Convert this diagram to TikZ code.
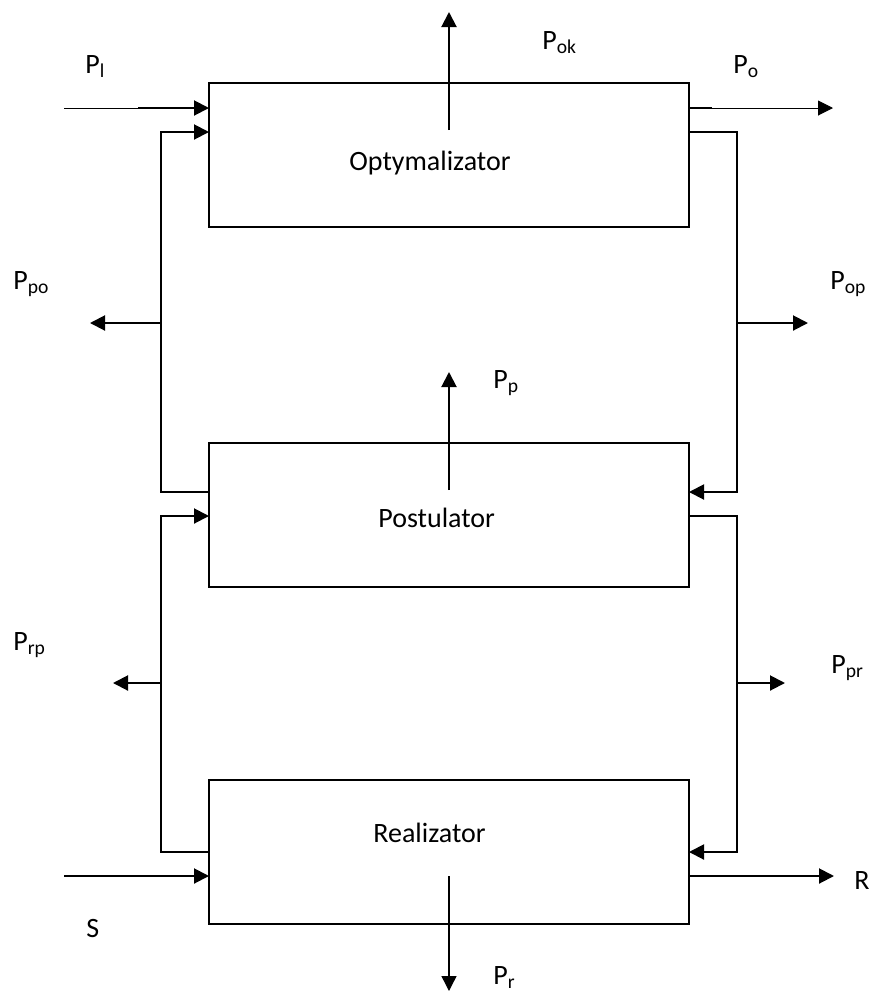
\documentclass[tikz,border=0pt]{standalone}
\usepackage{fontspec}
\setmainfont{Carlito}
\usetikzlibrary{arrows.meta,positioning}

\begin{document}
\begin{tikzpicture}[
    x=0.5pt, y=-0.5pt,
    block/.style={draw, line width=1pt, outer sep=0pt, minimum width=240pt, minimum height=72pt},
    lbl/.style={anchor=base west, inner sep=0pt, font=\fontsize{14}{17}\selectfont},
    link/.style={-{Triangle[length=7.5pt,width=7.5pt]}, line width=1pt},
    wire/.style={line width=1pt}
]
\useasboundingbox (0,0) rectangle (869,992);

% the three blocks
\node[block] (opt) at (449,155) {};
\node[block, below=108pt of opt] (post) {};
\node[block, below=96.5pt of post] (real) {};
\node[lbl] (opttxt) at (349,170) {Optymalizator};
\node[lbl] (posttxt) at (378,527) {Postulator};
\node[lbl] (realtxt) at (373,842) {Realizator};

% free ends and junctions
\coordinate (inl) at (64,108);
\coordinate (outo) at (833,108);
\coordinate (ins) at (64,876);
\coordinate (outr) at (834,876);
\coordinate (upok) at (449,12);
\coordinate (upp) at (449,372);
\coordinate (dnr) at (449,991);
\coordinate (jpo) at (161,323);
\coordinate (jrp) at (161,683);
\coordinate (jop) at (737,323);
\coordinate (jpr) at (737,683);
\coordinate (lpo) at (90,323);
\coordinate (lrp) at (113,683);
\coordinate (rop) at (808,323);
\coordinate (rpr) at (785,683);

% optymalizator in/out
\draw[line width=0.5pt] (inl) -- ++(74,0);
\draw[link] ([xshift=37pt]inl) -- (inl -| opt.west);
\draw[link, line width=0.5pt] (outo -| opt.east) -- (outo);
\draw[wire] (outo -| opt.east) -- ++(23,0);
\draw[link] ([yshift=-23.5pt]opt.north) -- (upok);

% feedback loops, left side
\draw[link] ([yshift=-24.5pt]post.north west) -| (jpo) |- ([yshift=-24.5pt]opt.north west);
\draw[link] (jpo) -- (lpo);
\draw[link] ([yshift=-36pt]real.north west) -| (jrp) |- ([yshift=-36.5pt]post.north west);
\draw[link] (jrp) -- (lrp);

% feedback loops, right side
\draw[link] ([yshift=-24.5pt]opt.north east) -| (jop) |- ([yshift=-24.5pt]post.north east);
\draw[link] (jop) -- (rop);
\draw[link] ([yshift=-36.5pt]post.north east) -| (jpr) |- ([yshift=-36pt]real.north east);
\draw[link] (jpr) -- (rpr);

% postulator and realizator
\draw[link] ([yshift=-23.5pt]post.north) -- (upp);
\draw[link] (ins) -- (ins -| real.west);
\draw[link] (outr -| real.east) -- (outr);
\draw[link, line width=0.7pt] ([yshift=-48pt]real.north) -- (dnr);

% labels
\node[lbl] (lbl) at (85,73) {P\textsubscript{l}};
\node[lbl] (lbok) at (542,49) {P\textsubscript{ok}};
\node[lbl] (lbo) at (733,73) {P\textsubscript{o}};
\node[lbl] (lbpo) at (13,289) {P\textsubscript{po}};
\node[lbl] (lbop) at (830,289) {P\textsubscript{op}};
\node[lbl] (lbp) at (493,388) {P\textsubscript{p}};
\node[lbl] (lbrp) at (13,650) {P\textsubscript{rp}};
\node[lbl] (lbpr) at (831,673) {P\textsubscript{pr}};
\node[lbl] (lbr) at (493,984) {P\textsubscript{r}};
\node[lbl] (lbs) at (86,937) {S};
\node[lbl] (lbR) at (854,889) {R};
\end{tikzpicture}
\end{document}
